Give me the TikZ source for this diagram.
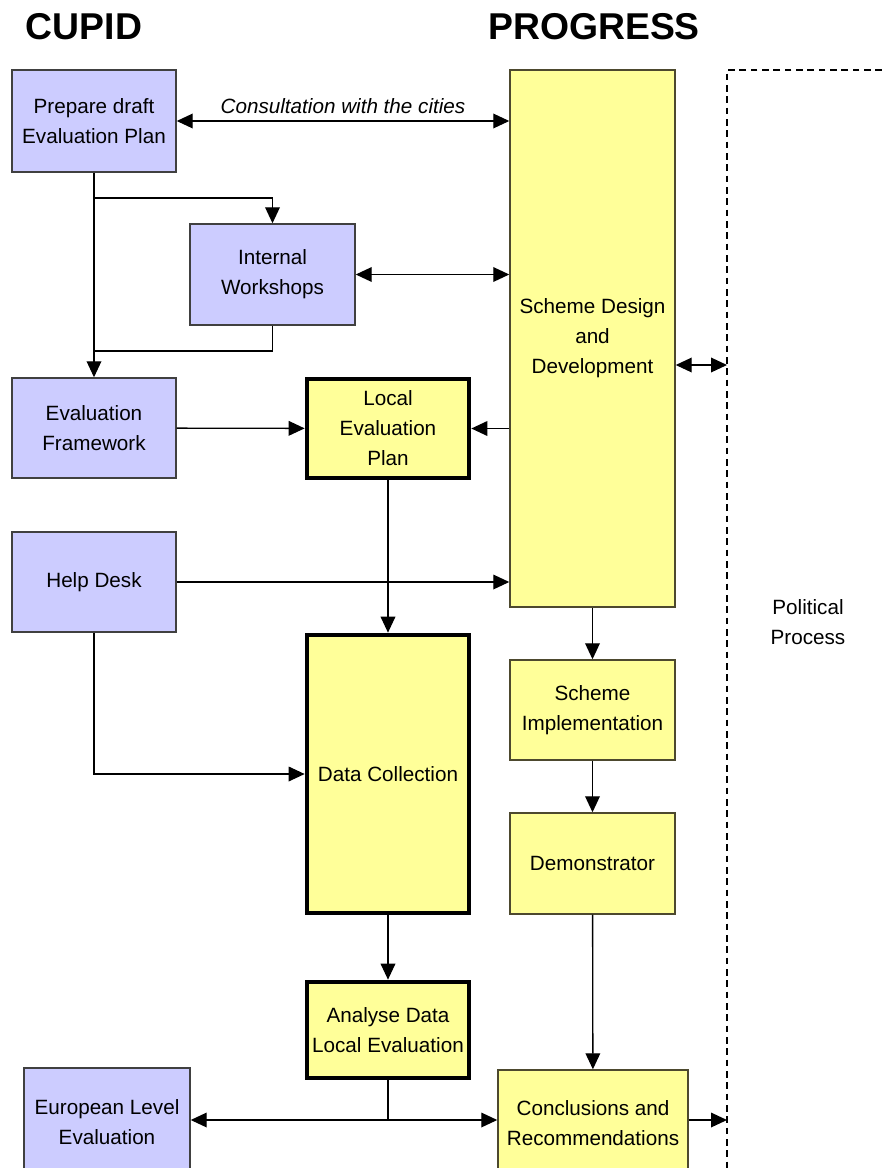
\documentclass[tikz,border=0pt]{standalone}
\usepackage{fontspec}
\setmainfont{Liberation Sans}
\usetikzlibrary{arrows.meta}
\definecolor{cupidblue}{HTML}{CCCCFF}
\definecolor{progyellow}{HTML}{FFFF99}
\tikzset{
  txt/.style={font=\fontsize{15.5}{22.5}\selectfont, align=center, inner sep=0pt},
  size/.style 2 args={minimum width=#1*0.75pt, minimum height=#2*0.75pt},
  cupid/.style={txt, draw=black!75, line width=1.1pt, fill=cupidblue},
  progress/.style={txt, draw=black!60!olive, line width=1.1pt, fill=progyellow},
  local/.style={txt, draw=black, line width=3.5pt, fill=progyellow},
  arr/.style={line width=1pt, -{Triangle[length=12pt,width=11pt]}},
  dbl/.style={line width=1pt, {Triangle[length=12pt,width=11pt]}-{Triangle[length=12pt,width=11pt]}},
  heading/.style={font=\fontsize{28}{32}\selectfont\bfseries}
}

\begin{document}
\begin{tikzpicture}[x=0.75pt, y=-0.75pt]
  \useasboundingbox (0,0) rectangle (882,1168);
  \node[heading] (cupidtitle) at (84,27) {CUPID};
  \node[heading] (progtitle) at (594,27) {PROGRESS};

  \node[cupid, size={164}{102}] (prep) at (94,121) {Prepare draft\\Evaluation Plan};
  \node[cupid, size={165}{101}] (work) at (272.5,274.5) {Internal\\Workshops};
  \node[cupid, size={164}{100}] (eval) at (94,428) {Evaluation\\Framework};
  \node[cupid, size={164}{100}] (help) at (94,582) {Help Desk};
  \node[cupid, size={166}{108}] (euro) at (107,1122) {European Level\\Evaluation};

  \node[progress, size={165}{537}] (scheme) at (592.5,338.5) {Scheme Design\\and\\Development};
  \node[progress, size={165}{100}] (impl) at (592.5,710) {Scheme\\Implementation};
  \node[progress, size={165}{101}] (demo) at (592.5,863.5) {Demonstrator};
  \node[progress, size={190}{106}] (concl) at (593,1123) {Conclusions and\\Recommendations};

  \node[local, size={162}{99}] (lep) at (388,428.5) {Local\\Evaluation\\Plan};
  \node[local, size={162}{278}] (data) at (388,774) {Data Collection};
  \node[local, size={162}{96}] (ana) at (388,1030) {Analyse Data\\Local Evaluation};

  \node[txt] (pol) at (808,622) {Political\\Process};

  \coordinate (j1) at (94,198);
  \coordinate (j2) at (94,351);
  \coordinate (j3) at (388,1120);
  \coordinate (pp) at (727,365);
  \coordinate (pe) at (727,1120);

  \draw[dbl] (prep.east) -- (prep.east -| scheme.west)
    node[midway, above=5pt, txt, font=\fontsize{15.5}{22.5}\selectfont\itshape] {Consultation with the cities};
  \draw[arr] (prep) -- (eval);
  \draw[arr] (j1) -| (work.north);
  \draw[line width=1pt] (work.south) |- (j2);
  \draw[dbl] (work.east) -- (work.east -| scheme.west);
  \draw[arr] (eval) -- (lep);
  \draw[arr] (scheme.west |- lep) -- (lep.east);
  \draw[arr] (help.east) -- (help.east -| scheme.west);
  \draw[arr] (help.south) |- (data.west);
  \draw[arr] (lep) -- (data);
  \draw[arr] (data) -- (ana);
  \draw[arr] (scheme) -- (impl);
  \draw[arr] (impl) -- (demo);
  \draw[arr] (demo) -- (concl);
  \draw[line width=1pt] (ana.south) -- (j3);
  \draw[arr] (j3) -- (j3 -| euro.east);
  \draw[arr] (j3) -- (j3 -| concl.west);
  \draw[dbl] (scheme.east |- pp) -- (pp);
  \draw[arr] (concl.east |- pe) -- (pe);

  \draw[line width=1pt, dash pattern=on 5pt off 3.5pt] (882,70) -| (727,1168);
\end{tikzpicture}
\end{document}
